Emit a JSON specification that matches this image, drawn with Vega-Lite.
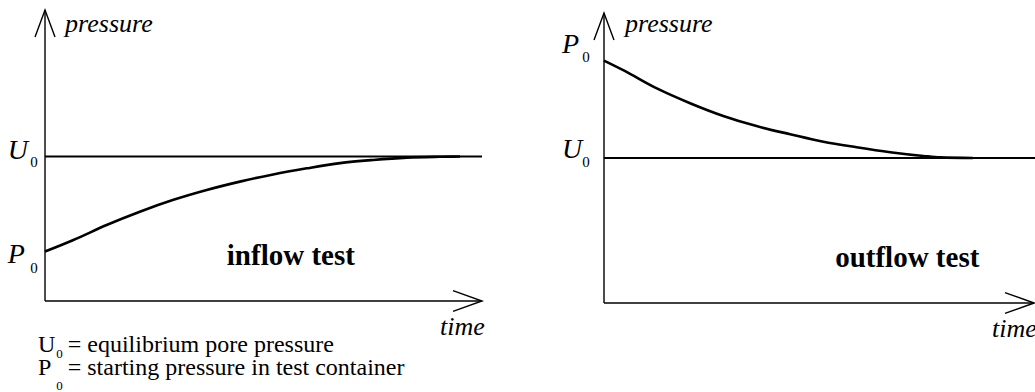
{
  "$schema": "https://vega.github.io/schema/vega-lite/v6.json",
  "padding": 0,
  "spacing": 0,
  "background": "white",
  "config": {"view": {"stroke": null}, "concat": {"spacing": 0}, "text": {"font": "Liberation Serif"}},
  "datasets": {
    "leftLines": [
      {"kind": "axis", "t": 0, "p": 0, "t2": 0, "p2": 10.07},
      {"kind": "axis", "t": 0, "p": 0, "t2": 10.0, "p2": 0},
      {"kind": "u0", "t": 0, "p": 5, "t2": 10.0, "p2": 5}
    ],
    "leftArrows": [
      {"dir": "up", "t": 0, "p": 10.07},
      {"dir": "right", "t": 10.0, "p": 0}
    ],
    "leftCurve": [
      {"t": 0, "p": 1.71}, {"t": 0.65, "p": 2.11}, {"t": 1.41, "p": 2.63},
      {"t": 2.17, "p": 3.09}, {"t": 2.94, "p": 3.5}, {"t": 3.7, "p": 3.84},
      {"t": 4.46, "p": 4.13}, {"t": 5.22, "p": 4.38}, {"t": 5.99, "p": 4.59},
      {"t": 6.75, "p": 4.77}, {"t": 7.51, "p": 4.88}, {"t": 8.28, "p": 4.96},
      {"t": 9.04, "p": 4.99}, {"t": 9.5, "p": 5.0}
    ],
    "leftText": [
      {"role": "axisname", "label": "pressure", "t": 0.46, "p": 9.31},
      {"role": "axisname", "label": "time", "t": 9.04, "p": -1.18},
      {"role": "sym", "label": "U", "t": -0.85, "p": 4.91},
      {"role": "sub", "label": "0", "t": -0.34, "p": 4.64},
      {"role": "sym", "label": "P", "t": -0.85, "p": 1.31},
      {"role": "sub", "label": "0", "t": -0.34, "p": 0.97},
      {"role": "test", "label": "inflow test", "t": 4.16, "p": 1.25},
      {"role": "legsym", "label": "U", "t": -0.16, "p": -1.76},
      {"role": "legsub", "label": "0", "t": 0.26, "p": -1.97},
      {"role": "legtext", "label": "= equilibrium pore pressure", "t": 0.52, "p": -1.76},
      {"role": "legsym", "label": "P", "t": -0.16, "p": -2.56},
      {"role": "legsub", "label": "0", "t": 0.26, "p": -3.08},
      {"role": "legtext", "label": "= starting pressure in test container", "t": 0.52, "p": -2.56}
    ],
    "rightLines": [
      {"kind": "axis", "t": 0, "p": 0, "t2": 0, "p2": 10.0},
      {"kind": "axis", "t": 0, "p": 0, "t2": 9.84, "p2": 0},
      {"kind": "u0", "t": 0, "p": 5, "t2": 9.863, "p2": 5}
    ],
    "rightArrows": [
      {"dir": "up", "t": 0, "p": 10.0},
      {"dir": "right", "t": 9.84, "p": 0}
    ],
    "rightCurve": [
      {"t": 0, "p": 8.36}, {"t": 0.44, "p": 8.03}, {"t": 1.21, "p": 7.4},
      {"t": 1.97, "p": 6.89}, {"t": 2.73, "p": 6.45}, {"t": 3.49, "p": 6.1},
      {"t": 4.26, "p": 5.82}, {"t": 5.02, "p": 5.56}, {"t": 5.78, "p": 5.37},
      {"t": 6.55, "p": 5.2}, {"t": 7.31, "p": 5.07}, {"t": 7.69, "p": 5.02},
      {"t": 8.44, "p": 5.0}
    ],
    "rightText": [
      {"role": "axisname", "label": "pressure", "t": 0.48, "p": 9.34},
      {"role": "axisname", "label": "time", "t": 8.88, "p": -1.17},
      {"role": "sym", "label": "P", "t": -0.96, "p": 8.62},
      {"role": "sub", "label": "0", "t": -0.5, "p": 8.31},
      {"role": "sym", "label": "U", "t": -0.96, "p": 5.0},
      {"role": "sub", "label": "0", "t": -0.5, "p": 4.69},
      {"role": "test", "label": "outflow test", "t": 5.29, "p": 1.24}
    ]
  },
  "hconcat": [
    {
      "width": 535,
      "height": 392,
      "encoding": {
        "x": {"field": "t", "type": "quantitative", "scale": {"domain": [-1.03, 11.213], "nice": false, "zero": false}, "axis": null},
        "y": {"field": "p", "type": "quantitative", "scale": {"domain": [-3.149, 10.415], "nice": false, "zero": false}, "axis": null}
      },
      "layer": [
        {
          "data": {"name": "leftLines"},
          "transform": [{"filter": "datum.kind === 'axis'"}],
          "mark": {"type": "rule", "color": "black", "strokeWidth": 1.4},
          "encoding": {"x2": {"field": "t2"}, "y2": {"field": "p2"}}
        },
        {
          "data": {"name": "leftLines"},
          "transform": [{"filter": "datum.kind === 'u0'"}],
          "mark": {"type": "rule", "color": "black", "strokeWidth": 2},
          "encoding": {"x2": {"field": "t2"}, "y2": {"field": "p2"}}
        },
        {
          "data": {"name": "leftCurve"},
          "mark": {"type": "line", "color": "black", "strokeWidth": 2.6, "interpolate": "monotone"},
          "encoding": {}
        },
        {
          "data": {"name": "leftArrows"},
          "transform": [{"filter": "datum.dir === 'up'"}],
          "mark": {"type": "point", "shape": "M-0.37,1L0,0L0.37,1", "size": 2916, "filled": false, "stroke": "black", "strokeWidth": 1.4, "opacity": 1}
        },
        {
          "data": {"name": "leftArrows"},
          "transform": [{"filter": "datum.dir === 'right'"}],
          "mark": {"type": "point", "shape": "M-1,-0.36L0,0L-1,0.36", "size": 3364, "filled": false, "stroke": "black", "strokeWidth": 1.4, "opacity": 1}
        },
        {
          "data": {"name": "leftText"},
          "transform": [{"filter": "datum.role === 'axisname'"}],
          "mark": {"type": "text", "font": "Liberation Serif", "fontStyle": "italic", "fontSize": 26, "align": "left", "baseline": "alphabetic", "color": "black"},
          "encoding": {"text": {"field": "label"}}
        },
        {
          "data": {"name": "leftText"},
          "transform": [{"filter": "datum.role === 'sym'"}],
          "mark": {"type": "text", "font": "Liberation Serif", "fontStyle": "italic", "fontSize": 28, "align": "left", "baseline": "alphabetic", "color": "black"},
          "encoding": {"text": {"field": "label"}}
        },
        {
          "data": {"name": "leftText"},
          "transform": [{"filter": "datum.role === 'sub'"}],
          "mark": {"type": "text", "font": "Liberation Serif", "fontSize": 15, "align": "left", "baseline": "alphabetic", "color": "black"},
          "encoding": {"text": {"field": "label"}}
        },
        {
          "data": {"name": "leftText"},
          "transform": [{"filter": "datum.role === 'test'"}],
          "mark": {"type": "text", "font": "Liberation Serif", "fontWeight": "bold", "fontSize": 29, "align": "left", "baseline": "alphabetic", "color": "black"},
          "encoding": {"text": {"field": "label"}}
        },
        {
          "data": {"name": "leftText"},
          "transform": [{"filter": "datum.role === 'legsym' || datum.role === 'legtext'"}],
          "mark": {"type": "text", "font": "Liberation Serif", "fontSize": 24, "align": "left", "baseline": "alphabetic", "color": "black"},
          "encoding": {"text": {"field": "label"}}
        },
        {
          "data": {"name": "leftText"},
          "transform": [{"filter": "datum.role === 'legsub'"}],
          "mark": {"type": "text", "font": "Liberation Serif", "fontSize": 13, "align": "left", "baseline": "alphabetic", "color": "black"},
          "encoding": {"text": {"field": "label"}}
        }
      ]
    },
    {
      "width": 500,
      "height": 392,
      "encoding": {
        "x": {"field": "t", "type": "quantitative", "scale": {"domain": [-1.579, 9.863], "nice": false, "zero": false}, "axis": null},
        "y": {"field": "p", "type": "quantitative", "scale": {"domain": [-3.069, 10.448], "nice": false, "zero": false}, "axis": null}
      },
      "layer": [
        {
          "data": {"name": "rightLines"},
          "transform": [{"filter": "datum.kind === 'axis'"}],
          "mark": {"type": "rule", "color": "black", "strokeWidth": 1.4},
          "encoding": {"x2": {"field": "t2"}, "y2": {"field": "p2"}}
        },
        {
          "data": {"name": "rightLines"},
          "transform": [{"filter": "datum.kind === 'u0'"}],
          "mark": {"type": "rule", "color": "black", "strokeWidth": 2},
          "encoding": {"x2": {"field": "t2"}, "y2": {"field": "p2"}}
        },
        {
          "data": {"name": "rightCurve"},
          "mark": {"type": "line", "color": "black", "strokeWidth": 2.6, "interpolate": "monotone"},
          "encoding": {}
        },
        {
          "data": {"name": "rightArrows"},
          "transform": [{"filter": "datum.dir === 'up'"}],
          "mark": {"type": "point", "shape": "M-0.37,1L0,0L0.37,1", "size": 2916, "filled": false, "stroke": "black", "strokeWidth": 1.4, "opacity": 1}
        },
        {
          "data": {"name": "rightArrows"},
          "transform": [{"filter": "datum.dir === 'right'"}],
          "mark": {"type": "point", "shape": "M-1,-0.36L0,0L-1,0.36", "size": 3364, "filled": false, "stroke": "black", "strokeWidth": 1.4, "opacity": 1}
        },
        {
          "data": {"name": "rightText"},
          "transform": [{"filter": "datum.role === 'axisname'"}],
          "mark": {"type": "text", "font": "Liberation Serif", "fontStyle": "italic", "fontSize": 26, "align": "left", "baseline": "alphabetic", "color": "black", "clip": true},
          "encoding": {"text": {"field": "label"}}
        },
        {
          "data": {"name": "rightText"},
          "transform": [{"filter": "datum.role === 'sym'"}],
          "mark": {"type": "text", "font": "Liberation Serif", "fontStyle": "italic", "fontSize": 28, "align": "left", "baseline": "alphabetic", "color": "black"},
          "encoding": {"text": {"field": "label"}}
        },
        {
          "data": {"name": "rightText"},
          "transform": [{"filter": "datum.role === 'sub'"}],
          "mark": {"type": "text", "font": "Liberation Serif", "fontSize": 15, "align": "left", "baseline": "alphabetic", "color": "black"},
          "encoding": {"text": {"field": "label"}}
        },
        {
          "data": {"name": "rightText"},
          "transform": [{"filter": "datum.role === 'test'"}],
          "mark": {"type": "text", "font": "Liberation Serif", "fontWeight": "bold", "fontSize": 29, "align": "left", "baseline": "alphabetic", "color": "black"},
          "encoding": {"text": {"field": "label"}}
        }
      ]
    }
  ]
}
